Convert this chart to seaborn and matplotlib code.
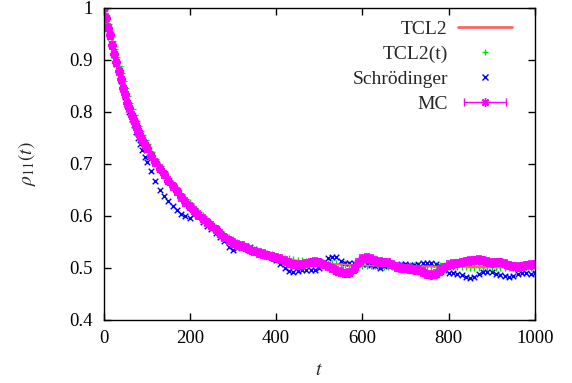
import numpy as np
import seaborn as sns
import matplotlib
matplotlib.use('Agg')
import matplotlib.pyplot as plt
from matplotlib.lines import Line2D
from matplotlib.legend_handler import HandlerLine2D

# time grid: every 5 in the steep start, every 10 after
t = list(range(0, 100, 5)) + list(range(100, 1001, 10))

# TCL2 solid line (mostly hidden under the markers)
tcl2_t = list(range(0, 400, 10)) + list(range(400, 1001, 50))
tcl2_rho = [1.000, 0.968, 0.936, 0.905, 0.874, 0.845, 0.818, 0.794, 0.773, 0.755,
            0.738, 0.723, 0.709, 0.696, 0.684, 0.673, 0.662, 0.652, 0.642, 0.633,
            0.624, 0.615, 0.607, 0.599, 0.591, 0.584, 0.577, 0.570, 0.564, 0.558,
            0.553, 0.548, 0.544, 0.540, 0.537, 0.534, 0.531, 0.528, 0.526, 0.524,
            0.522, 0.514, 0.509, 0.507, 0.505, 0.504, 0.503, 0.503, 0.503, 0.502,
            0.502, 0.502, 0.502]

tcl2t_rho = [1.000, 0.984, 0.968, 0.952, 0.936, 0.920, 0.905, 0.889, 0.874, 0.859,
             0.845, 0.831, 0.818, 0.806, 0.794, 0.783, 0.773, 0.764, 0.755, 0.746,
             0.738, 0.723, 0.709, 0.696, 0.684, 0.673, 0.662, 0.652, 0.642, 0.633,
             0.624, 0.615, 0.607, 0.599, 0.591, 0.584, 0.577, 0.570, 0.564, 0.558,
             0.553, 0.548, 0.544, 0.540, 0.537, 0.534, 0.531, 0.528, 0.526, 0.524,
             0.522, 0.520, 0.518, 0.517, 0.515, 0.514, 0.513, 0.512, 0.511, 0.510,
             0.509, 0.509, 0.508, 0.508, 0.507, 0.507, 0.507, 0.506, 0.506, 0.506,
             0.505, 0.505, 0.505, 0.505, 0.504, 0.504, 0.504, 0.504, 0.504, 0.504,
             0.503, 0.503, 0.503, 0.503, 0.503, 0.503, 0.503, 0.503, 0.503, 0.503,
             0.503, 0.503, 0.503, 0.503, 0.503, 0.502, 0.502, 0.502, 0.502, 0.502,
             0.502, 0.502, 0.502, 0.502, 0.502, 0.502, 0.502, 0.502, 0.502, 0.502,
             0.502]

schr_rho = [1.000, 0.980, 0.961, 0.944, 0.926, 0.909, 0.892, 0.876, 0.860, 0.844,
            0.829, 0.814, 0.800, 0.787, 0.774, 0.762, 0.750, 0.738, 0.726, 0.714,
            0.703, 0.686, 0.668, 0.650, 0.638, 0.628, 0.620, 0.611, 0.604, 0.600,
            0.597, 0.604, 0.600, 0.588, 0.580, 0.574, 0.567, 0.560, 0.552, 0.541,
            0.535, 0.538, 0.541, 0.542, 0.541, 0.536, 0.531, 0.529, 0.526, 0.522,
            0.516, 0.508, 0.500, 0.494, 0.492, 0.494, 0.496, 0.496, 0.496, 0.497,
            0.500, 0.510, 0.519, 0.522, 0.521, 0.514, 0.510, 0.509, 0.510, 0.511,
            0.508, 0.507, 0.506, 0.503, 0.500, 0.503, 0.506, 0.507, 0.506, 0.507,
            0.507, 0.506, 0.505, 0.507, 0.509, 0.510, 0.509, 0.508, 0.503, 0.496,
            0.491, 0.490, 0.489, 0.486, 0.482, 0.481, 0.483, 0.488, 0.492, 0.493,
            0.492, 0.489, 0.486, 0.484, 0.483, 0.485, 0.489, 0.490, 0.490, 0.488,
            0.490]

mc_rho = [1.000, 0.981, 0.962, 0.948, 0.928, 0.912, 0.895, 0.878, 0.864, 0.846,
          0.834, 0.818, 0.807, 0.793, 0.783, 0.772, 0.763, 0.754, 0.746, 0.737,
          0.730, 0.716, 0.703, 0.691, 0.680, 0.668, 0.657, 0.647, 0.636, 0.627,
          0.618, 0.610, 0.602, 0.595, 0.588, 0.581, 0.574, 0.566, 0.559, 0.553,
          0.548, 0.545, 0.542, 0.539, 0.535, 0.532, 0.529, 0.527, 0.524, 0.522,
          0.520, 0.518, 0.514, 0.510, 0.507, 0.506, 0.507, 0.509, 0.511, 0.512,
          0.511, 0.507, 0.503, 0.499, 0.495, 0.492, 0.490, 0.491, 0.498, 0.510,
          0.518, 0.519, 0.517, 0.514, 0.512, 0.511, 0.510, 0.506, 0.502, 0.500,
          0.499, 0.498, 0.497, 0.496, 0.492, 0.488, 0.487, 0.489, 0.494, 0.501,
          0.506, 0.508, 0.509, 0.511, 0.513, 0.514, 0.515, 0.516, 0.515, 0.512,
          0.510, 0.511, 0.511, 0.508, 0.505, 0.503, 0.502, 0.503, 0.505, 0.506,
          0.507]
mc_err = 0.007

RED = '#ff6464'
GREEN = '#00e000'
BLUE = '#0000ff'
MAGENTA = '#ff00ff'

sns.set_theme(style='ticks')
plt.rcParams['font.family'] = ['Liberation Serif', 'DejaVu Serif']
plt.rcParams['mathtext.fontset'] = 'stix'

fig = plt.figure(figsize=(5.72, 3.83), dpi=100)
ax = fig.add_axes([0.181, 0.1645, 0.754, 0.815])

sns.lineplot(x=tcl2_t, y=tcl2_rho, color=RED, linewidth=1.2, ax=ax)
sns.scatterplot(x=t, y=tcl2t_rho, marker='+', color=GREEN, s=30, linewidth=1, ax=ax)
sns.scatterplot(x=t, y=schr_rho, marker='x', color=BLUE, s=16, linewidth=1, ax=ax)
ax.errorbar(t, mc_rho, yerr=mc_err, fmt='none', ecolor=MAGENTA, elinewidth=1.2,
            capsize=2.5, capthick=1.2)
ax.plot(t, mc_rho, ls='', marker=(8, 2, 0), ms=6.5, mew=1.5, color=MAGENTA)

ax.set_xlim(0, 1000)
ax.set_ylim(0.4, 1.0)
ax.set_xticks([0, 200, 400, 600, 800, 1000])
ax.set_yticks([0.4, 0.5, 0.6, 0.7, 0.8, 0.9, 1.0],
              ['0.4', '0.5', '0.6', '0.7', '0.8', '0.9', '1'])
ax.tick_params(direction='in', top=True, right=True, length=5, width=1,
               labelsize=13.5, colors='black')
ax.tick_params(axis='y', pad=8)
ax.tick_params(axis='x', pad=7)
for sp in ax.spines.values():
    sp.set_color('black')
    sp.set_linewidth(1)

ax.set_xlabel(r'$t$', fontsize=14, labelpad=11)
ax.set_ylabel(r'$\rho_{11}(t)$', fontsize=14, labelpad=22)

# gnuplot-like key: labels right aligned, sample to the right
h_red = Line2D([], [], color=RED, lw=2)
h_green = Line2D([], [], ls='', marker='+', color=GREEN, ms=5, mew=1)
h_blue = Line2D([], [], ls='', marker='x', color=BLUE, ms=4, mew=1)
h_mc_bar = Line2D([], [], color=MAGENTA, lw=1, marker='|', ms=6, mew=1)
h_mc_pt = Line2D([], [], ls='', marker=(8, 2, 0), color=MAGENTA, ms=6, mew=1)
ax.legend([h_red, h_green, h_blue, (h_mc_bar, h_mc_pt)],
          ['TCL2', 'TCL2(t)', 'Schrödinger', 'MC'],
          loc='upper right', bbox_to_anchor=(0.965, 0.985), borderaxespad=0,
          frameon=False, markerfirst=False,
          handlelength=2.75, handletextpad=0.55, labelspacing=0.38,
          fontsize=14,
          handler_map={h_mc_bar: HandlerLine2D(numpoints=2)})

fig.savefig('out.png', dpi=100)
